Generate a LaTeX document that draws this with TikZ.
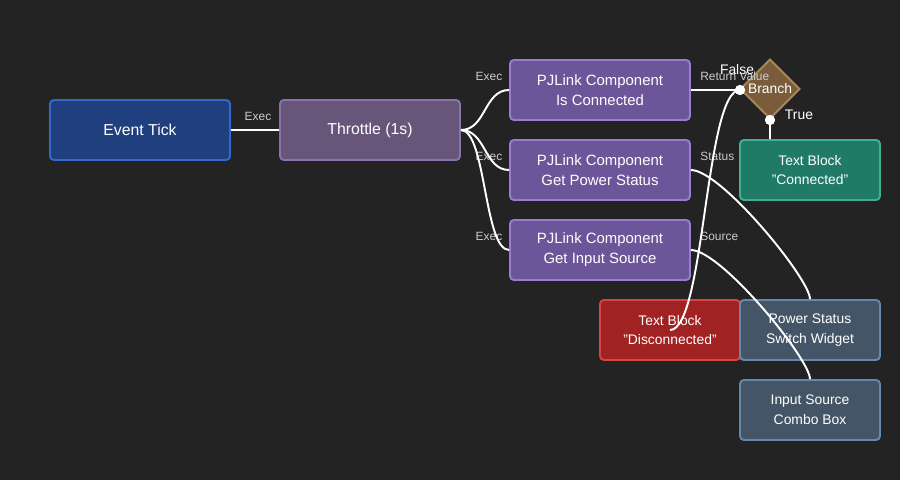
\documentclass[tikz,border=0pt]{standalone}
\usepackage{fontspec}
\setmainfont{Liberation Sans}
\usepackage{tikz}
\usetikzlibrary{shapes.geometric,positioning}
\definecolor{sfondo}{HTML}{232323}
\definecolor{tickfill}{HTML}{1F3F7F}
\definecolor{tickbordo}{HTML}{3468CC}
\definecolor{thrfill}{HTML}{68567A}
\definecolor{thrbordo}{HTML}{8A72AA}
\definecolor{pjfill}{HTML}{6C5598}
\definecolor{pjbordo}{HTML}{9A7CD0}
\definecolor{brfill}{HTML}{7A5C3A}
\definecolor{brbordo}{HTML}{A8885A}
\definecolor{okfill}{HTML}{207A68}
\definecolor{okbordo}{HTML}{40B092}
\definecolor{kofill}{HTML}{A02222}
\definecolor{kobordo}{HTML}{D84444}
\definecolor{wfill}{HTML}{445568}
\definecolor{wbordo}{HTML}{6688AA}
\definecolor{etigrigio}{HTML}{CCCCCC}
\tikzstyle{blocco} = [rectangle, rounded corners=2.2pt, minimum width=3.6cm, minimum height=1.2cm, align=center, text=white, line width=1.1pt, font=\fontsize{8.5}{11.3}\selectfont]
\tikzstyle{widget} = [blocco, minimum width=2.8cm, font=\fontsize{7.9}{11.3}\selectfont]
\tikzstyle{filo} = [white, line width=1.1pt]
\tikzstyle{porta} = [circle, fill=white, inner sep=0pt, minimum size=0.2cm]
\tikzstyle{etichetta} = [text=etigrigio, inner sep=0pt, font=\fontsize{6.8}{8}\selectfont]

\begin{document}
\begin{tikzpicture}[x=0.02cm, y=-0.02cm]
	\fill[sfondo] (0,0) rectangle (900,480);
	\node (tick) at (140,130) [blocco, fill=tickfill, draw=tickbordo, font=\fontsize{9}{11.3}\selectfont] {Event Tick};
	\node (thr) at (370,130) [blocco, fill=thrfill, draw=thrbordo, font=\fontsize{9}{11.3}\selectfont] {Throttle (1s)};
	\node (conn) at (600,90) [blocco, fill=pjfill, draw=pjbordo] {PJLink Component\\Is Connected};
	\node (pwr) at (600,170) [blocco, fill=pjfill, draw=pjbordo] {PJLink Component\\Get Power Status};
	\node (src) at (600,250) [blocco, fill=pjfill, draw=pjbordo] {PJLink Component\\Get Input Source};
	\node (br) at (770,89) [diamond, minimum size=1.2cm, inner sep=0pt, fill=brfill, draw=brbordo, line width=1.1pt, text=white, font=\fontsize{7.9}{9}\selectfont] {Branch};
	\node (ok) at (810,170) [widget, fill=okfill, draw=okbordo] {Text Block\\"Connected"};
	\node (ko) at (670,330) [widget, fill=kofill, draw=kobordo] {Text Block\\"Disconnected"};
	\node (sw) at (810,330) [widget, fill=wfill, draw=wbordo] {Power Status\\Switch Widget};
	\node (cb) at (810,410) [widget, fill=wfill, draw=wbordo] {Input Source\\Combo Box};
	% etichette
	\node[etichetta] (e0) at (258,116) {Exec};
	\node[etichetta] (e1) at (489,76) {Exec};
	\node[etichetta] (e2) at (489,156) {Exec};
	\node[etichetta] (e3) at (489,236) {Exec};
	\node[etichetta, anchor=west] (rv) at (700,76) {Return Value};
	\node[etichetta, anchor=west] (st) at (700,156) {Status};
	\node[etichetta, anchor=west] (so) at (700,236) {Source};
	\node[text=white, inner sep=0pt, font=\fontsize{7.9}{9}\selectfont] (fa) at (737,70) {False};
	\node[text=white, inner sep=0pt, font=\fontsize{7.9}{9}\selectfont] (tr) at (799,115) {True};
	% porte
	\node[porta] (bin) at (740,90) {};
	\node[porta] (btrue) at (770,120) {};
	% fili
	\draw[filo] (tick) -- (thr);
	\draw[filo] (thr.east) .. controls +(25,0) and +(-25,0) .. (conn.west);
	\draw[filo] (thr.east) .. controls +(25,0) and +(-25,0) .. (pwr.west);
	\draw[filo] (thr.east) .. controls +(25,0) and +(-25,0) .. (src.west);
	\draw[filo] (conn.east) -- (bin);
	\draw[filo] (btrue) -- (btrue |- ok.north);
	\draw[filo] (bin.center) .. controls +(-35,0) and +(35,0) .. (ko.center);
	\draw[filo] (pwr.east) .. controls +(30,0) and +(0,-20) .. (sw.north);
	\draw[filo] (src.east) .. controls +(30,0) and +(0,-20) .. (cb.north);
	\node[porta] at (bin) {};
	\node[porta] at (btrue) {};
\end{tikzpicture}
\end{document}
